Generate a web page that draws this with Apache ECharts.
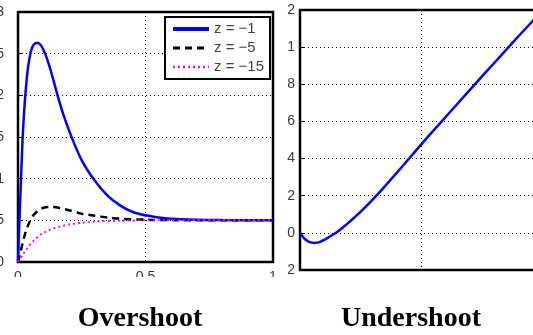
<!DOCTYPE html>
<html>
<head>
<meta charset="utf-8">
<script src="https://cdn.jsdelivr.net/npm/echarts@6/dist/echarts.min.js"></script>
<style>
html,body{margin:0;padding:0;background:#fff;}
#c{width:533px;height:335px;}
</style>
</head>
<body>
<div id="c"></div>
<script>
// Left panel (Overshoot)
var blueT = [0,0.005,0.01,0.015,0.02,0.03,0.04,0.05,0.06,0.075,0.09,0.11,0.13,0.155,0.18,0.21,0.25,0.3,0.35,0.4,0.45,0.5,0.55,0.6,0.7,0.8,0.9,1];
var blueY = [0,0.45,0.85,1.25,1.6,2.05,2.35,2.52,2.6,2.63,2.6,2.47,2.28,2.0,1.75,1.5,1.22,0.98,0.8,0.68,0.6,0.56,0.535,0.52,0.508,0.503,0.501,0.5];
var blackT = [0,0.01,0.02,0.03,0.045,0.06,0.08,0.1,0.13,0.16,0.2,0.25,0.3,0.35,0.4,0.5,0.6,0.8,1];
var blackY = [0,0.12,0.25,0.36,0.48,0.56,0.62,0.65,0.66,0.65,0.62,0.58,0.555,0.535,0.52,0.508,0.503,0.5,0.5];
var magT = [0,0.02,0.04,0.06,0.08,0.1,0.13,0.16,0.2,0.25,0.3,0.4,0.5,1];
var magY = [0,0.09,0.18,0.25,0.31,0.35,0.39,0.42,0.45,0.47,0.485,0.495,0.5,0.5];
var seriesNames = ['z = \u22121','z = \u22125','z = \u221215'];
var leftYTicks = ['0','0.5','1','1.5','2','2.5','3'];
var leftXTicks = ['0','0.5','1'];

// Right panel (Undershoot)
var rightT = [0,0.02,0.04,0.06,0.08,0.1,0.12,0.14,0.16,0.18,0.2,0.225,0.25,0.275,0.3,0.35,0.4,0.45,0.5,0.55,0.6,0.65,0.7,0.75,0.8,0.85,0.9,0.95,1.0];
var rightY = [0,-0.033,-0.05,-0.054,-0.05,-0.038,-0.022,-0.006,0.012,0.033,0.055,0.084,0.114,0.146,0.18,0.252,0.326,0.402,0.478,0.552,0.625,0.698,0.771,0.844,0.916,0.988,1.06,1.13,1.2];
var rightYTicks = ['2','0','2','4','6','8','1','2'];

var titles = ['Overshoot','Undershoot'];

function pairs(t, y){ return t.map(function(v,i){ return [v, y[i]]; }); }

var chart = echarts.init(document.getElementById('c'), null, {renderer:'canvas'});
var gridLine = {show:true, lineStyle:{color:'#000', type:[1,3], width:1}};
var labelStyle = {color:'#3a3a3a', fontFamily:'Liberation Sans, Arial', fontSize:14};

chart.setOption({
  animation:false,
  backgroundColor:'#fff',
  grid:[
    {left:18, top:12, width:255, height:250, show:true, borderColor:'#000', borderWidth:2.5, backgroundColor:'transparent', containLabel:false, outerBoundsMode:'none'},
    {left:300, top:10, width:243, height:260, show:true, borderColor:'#000', borderWidth:2.5, backgroundColor:'transparent', containLabel:false, outerBoundsMode:'none'}
  ],
  xAxis:[
    {gridIndex:0, type:'value', min:0, max:1, interval:0.5,
     axisLine:{show:false}, axisTick:{show:false}, splitLine:gridLine,
     axisLabel:Object.assign({margin:8, formatter:function(v,i){return leftXTicks[i];}}, labelStyle)},
    {gridIndex:1, type:'value', min:0, max:1, interval:0.5,
     axisLine:{show:false}, axisTick:{show:false}, splitLine:gridLine,
     axisLabel:{show:false}}
  ],
  yAxis:[
    {gridIndex:0, type:'value', min:0, max:3, interval:0.5,
     axisLine:{show:false}, axisTick:{show:true, inside:true, length:4, lineStyle:{color:'#000'}}, splitLine:gridLine,
     axisLabel:Object.assign({margin:14, formatter:function(v,i){return leftYTicks[i];}}, labelStyle)},
    {gridIndex:1, type:'value', min:-0.2, max:1.2, interval:0.2,
     axisLine:{show:false}, axisTick:{show:true, inside:true, length:4, lineStyle:{color:'#000'}}, splitLine:gridLine,
     axisLabel:Object.assign({margin:5, formatter:function(v,i){return rightYTicks[i];}}, labelStyle)}
  ],
  legend:{
    left:165, top:17, orient:'vertical', itemWidth:36, itemHeight:14, itemGap:3,
    padding:[4,6,4,6],
    backgroundColor:'#fff', borderColor:'#000', borderWidth:2,
    itemStyle:{color:'transparent', borderWidth:0, opacity:0},
    textStyle:{fontFamily:'Liberation Sans, Arial', fontSize:15, color:'#444', lineHeight:16},
    data:[
      {name:seriesNames[0], lineStyle:{width:4}},
      {name:seriesNames[1], lineStyle:{width:3}},
      {name:seriesNames[2], lineStyle:{width:2.5}}
    ]
  },
  series:[
    {name:seriesNames[0], type:'line', xAxisIndex:0, yAxisIndex:0, data:pairs(blueT,blueY),
     showSymbol:false, symbol:'none', smooth:0.3, lineStyle:{color:'#0000ff', width:2.5}, itemStyle:{color:'#0000ff'}, z:4},
    {name:seriesNames[1], type:'line', xAxisIndex:0, yAxisIndex:0, data:pairs(blackT,blackY),
     showSymbol:false, symbol:'none', smooth:0.3, lineStyle:{color:'#000', width:2.5, type:[7,5]}, itemStyle:{color:'#000'}, z:3},
    {name:seriesNames[2], type:'line', xAxisIndex:0, yAxisIndex:0, data:pairs(magT,magY),
     showSymbol:false, symbol:'none', smooth:0.3, lineStyle:{color:'#ff00ff', width:2, type:[2,3]}, itemStyle:{color:'#ff00ff'}, z:5},
    {name:'undershoot', type:'line', xAxisIndex:1, yAxisIndex:1, data:pairs(rightT,rightY),
     showSymbol:false, symbol:'none', smooth:0.3, lineStyle:{color:'#0000ff', width:2.5}, itemStyle:{color:'#0000ff'}}
  ],
  graphic:[
    {type:'rect', left:0, top:277, z:100, shape:{width:533, height:58}, style:{fill:'#fff'}},
    {type:'text', z:101, x:140, y:319, style:{text:titles[0], fontFamily:'Liberation Serif, Times New Roman', fontWeight:'bold', fontSize:28, fill:'#000', textAlign:'center', textVerticalAlign:'middle'}},
    {type:'text', z:101, x:411, y:319, style:{text:titles[1], fontFamily:'Liberation Serif, Times New Roman', fontWeight:'bold', fontSize:28, fill:'#000', textAlign:'center', textVerticalAlign:'middle'}}
  ]
});
</script>
</body>
</html>
